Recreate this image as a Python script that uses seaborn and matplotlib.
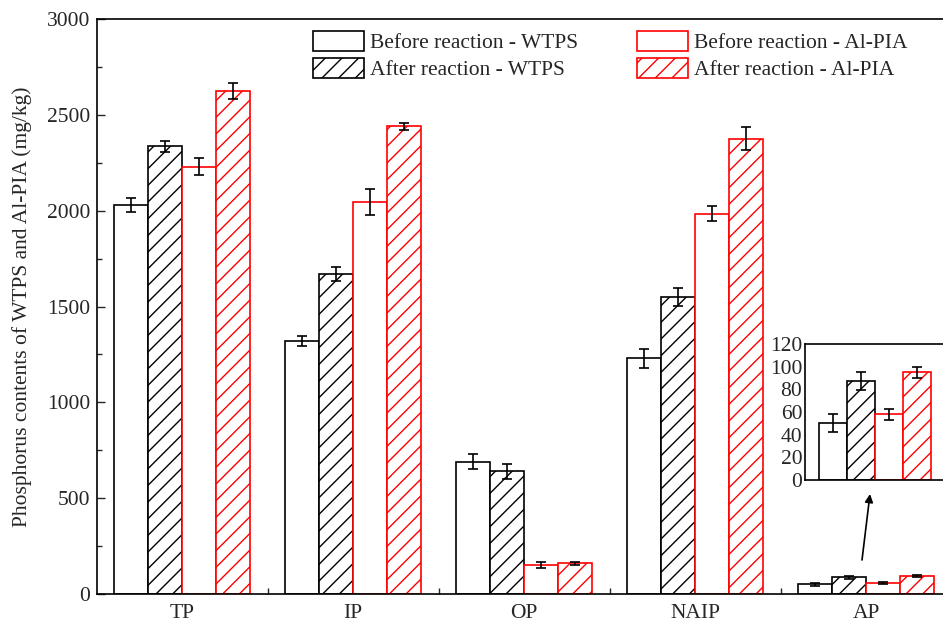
import numpy as np
import pandas as pd
import matplotlib
matplotlib.use("Agg")
import matplotlib.pyplot as plt
import seaborn as sns

# Phosphorus fractions and the four sample series
fractions = ["TP", "IP", "OP", "NAIP", "AP"]
series = ["Before reaction - WTPS", "After reaction - WTPS",
          "Before reaction - Al-PIA", "After reaction - Al-PIA"]

before_wtps = [2030, 1320, 690, 1230, 50]
after_wtps = [2335, 1670, 640, 1550, 87]
before_alpia = [2230, 2045, 150, 1985, 58]
after_alpia = [2625, 2440, 160, 2375, 95]

before_wtps_err = [35, 25, 40, 50, 8]
after_wtps_err = [30, 35, 40, 45, 8]
before_alpia_err = [45, 70, 15, 40, 5]
after_alpia_err = [40, 20, 8, 60, 5]

values = [before_wtps, after_wtps, before_alpia, after_alpia]
errors = [before_wtps_err, after_wtps_err, before_alpia_err, after_alpia_err]

edge_colors = ["black", "black", "red", "red"]
hatches = ["", "//", "", "//"]

rows = []
for s, vals, errs in zip(series, values, errors):
    for f, v, e in zip(fractions, vals, errs):
        rows.append({"fraction": f, "series": s, "value": v, "err": e})
df = pd.DataFrame(rows)

sns.set_theme(style="ticks")
plt.rcParams["font.family"] = ["Liberation Serif", "DejaVu Serif"]
plt.rcParams["hatch.linewidth"] = 1.0

FS = 15.5

fig = plt.figure(figsize=(9.43, 6.23), dpi=100)
ax = fig.add_axes([96.5 / 943, 29 / 623, (951.5 - 96.5) / 943, 575 / 623])

palette = {s: "white" for s in series}
sns.barplot(data=df, x="fraction", y="value", hue="series", order=fractions,
            hue_order=series, palette=palette, width=0.8, errorbar=None,
            saturation=1, legend=False, ax=ax)


def style_bars(axis, lw=1.2):
    for cont, ec, h in zip(axis.containers, edge_colors, hatches):
        for p in cont.patches:
            p.set_facecolor("white")
            p.set_edgecolor(ec)
            p.set_hatch(h)
            p.set_linewidth(lw)


style_bars(ax)

# error bars at the centres of the drawn bars
for cont, errs in zip(ax.containers, errors):
    xs = [p.get_x() + p.get_width() / 2 for p in cont.patches]
    ys = [p.get_height() for p in cont.patches]
    ax.errorbar(xs, ys, yerr=errs, fmt="none", ecolor="black", elinewidth=1.2,
                capsize=3.8, capthick=1.2, zorder=5)

ax.set_xlim(-0.5, 4.5)
ax.set_ylim(0, 3000)
ax.set_yticks(np.arange(0, 3001, 500))
ax.set_yticks(np.arange(250, 3000, 500), minor=True)
ax.set_xticks(np.arange(0.5, 4.5, 1), minor=True)
ax.tick_params(axis="y", which="major", direction="in", length=6, width=1,
               labelsize=FS, pad=4.5)
ax.tick_params(axis="y", which="minor", direction="in", length=3.5, width=1)
ax.tick_params(axis="x", which="major", length=0, labelsize=FS, pad=7)
ax.tick_params(axis="x", which="minor", direction="in", length=4, width=1)
ax.set_xlabel("")
ax.set_ylabel("Phosphorus contents of WTPS and Al-PIA (mg/kg)", fontsize=FS,
              labelpad=11)
for sp in ax.spines.values():
    sp.set_linewidth(1.2)
    sp.set_color("black")

handles = []
for ec, h, s in zip(edge_colors, hatches, series):
    patch = matplotlib.patches.Patch(facecolor="white", edgecolor=ec, hatch=h,
                                     linewidth=1.2, label=s)
    handles.append(patch)
fig.legend(handles=handles, ncol=2, frameon=False, fontsize=FS,
           handlelength=2.37, handleheight=1.07, handletextpad=0.28,
           columnspacing=2.75, labelspacing=0.22, borderpad=0,
           loc="upper left", bbox_to_anchor=(302 / 943, 1 - 20 / 623))

# inset with the small AP fraction
ap = pd.DataFrame({"series": series,
                   "value": [v[-1] for v in values],
                   "err": [e[-1] for e in errors]})
ins = fig.add_axes([805 / 943, 143 / 623, 140 / 943, 136 / 623])
sns.barplot(data=ap, x="series", y="value", hue="series", order=series,
            hue_order=series, palette=palette, width=1.0, errorbar=None,
            saturation=1, legend=False, ax=ins)
style_bars(ins)
ins_xs = []
ins_ys = []
for cont in ins.containers:
    for p in cont.patches:
        ins_xs.append(p.get_x() + p.get_width() / 2)
        ins_ys.append(p.get_height())
ins.errorbar(ins_xs, ins_ys, yerr=ap["err"], fmt="none", ecolor="black",
             elinewidth=1.2, capsize=3.8, capthick=1.2, zorder=5)
ins.set_xlim(-1.0, 4.0)
ins.set_ylim(0, 120)
ins.set_yticks(np.arange(0, 121, 20))
ins.set_xticks([])
ins.set_xlabel("")
ins.set_ylabel("")
ins.tick_params(axis="y", direction="in", length=0, labelsize=FS, pad=2)
for sp in ins.spines.values():
    sp.set_linewidth(1.2)
    sp.set_color("black")

# arrow from the AP bars up to the inset
fig.add_artist(matplotlib.patches.FancyArrowPatch(
    (862 / 943, 1 - 560 / 623), (870 / 943, 1 - 494 / 623),
    transform=fig.transFigure, arrowstyle="-|>", mutation_scale=12,
    color="black", linewidth=1.2, shrinkA=0, shrinkB=0))

fig.savefig("out.png", dpi=100)
